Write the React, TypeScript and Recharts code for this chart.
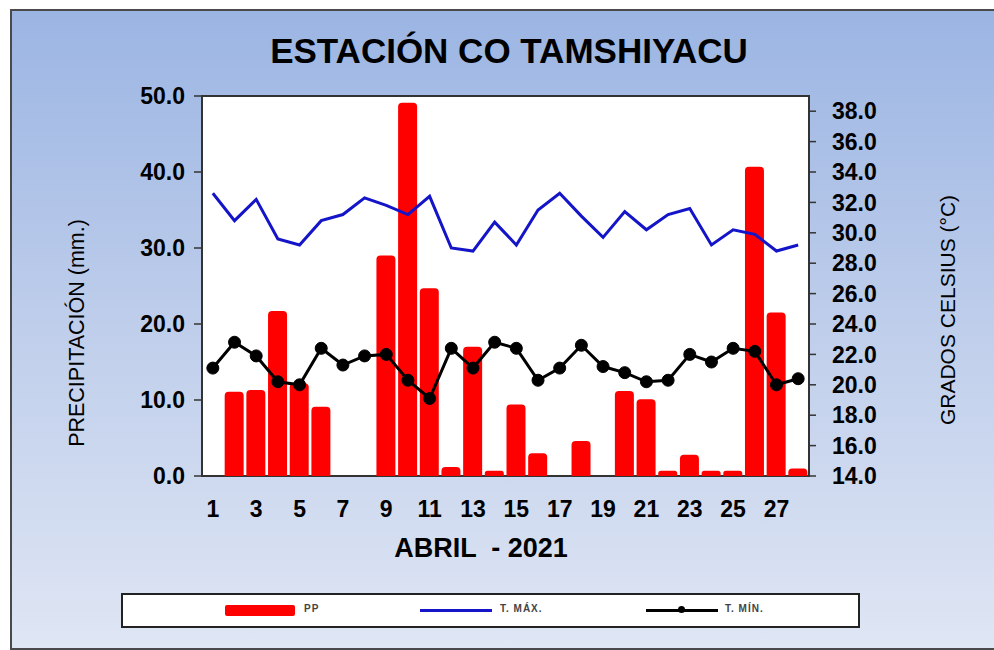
import React from 'react';
import { ComposedChart, Bar, Line, XAxis, YAxis } from 'recharts';

const days = ['1', '2', '3', '4', '5', '6', '7', '8', '9', '10', '11', '12', '13', '14', '15', '16', '17', '18', '19', '20', '21', '22', '23', '24', '25', '26', '27', '28'];
const pp = [0, 11.1, 11.3, 21.7, 12.2, 9.1, 0, 0, 29.0, 49.1, 24.7, 1.2, 17.0, 0.7, 9.4, 3.0, 0, 4.6, 0, 11.2, 10.1, 0.7, 2.8, 0.7, 0.7, 40.7, 21.5, 1.0];
const tMax = [32.6, 30.8, 32.2, 29.6, 29.2, 30.8, 31.2, 32.3, 31.8, 31.2, 32.4, 29.0, 28.8, 30.7, 29.2, 31.5, 32.6, 31.1, 29.7, 31.4, 30.2, 31.2, 31.6, 29.2, 30.2, 29.9, 28.8, 29.2];
const tMin = [21.1, 22.8, 21.9, 20.2, 20.0, 22.4, 21.3, 21.9, 22.0, 20.3, 19.1, 22.4, 21.1, 22.8, 22.4, 20.3, 21.1, 22.6, 21.2, 20.8, 20.2, 20.3, 22.0, 21.5, 22.4, 22.2, 20.0, 20.4];
const ppTicks = [0, 10, 20, 30, 40, 50];
const tempTicks = [14, 16, 18, 20, 22, 24, 26, 28, 30, 32, 34, 36, 38];

const data = days.map((d, i) => ({ day: d, pp: pp[i], tmax: tMax[i], tmin: tMin[i] }));

const FONT = '"Liberation Sans", Arial, sans-serif';
const tickStyle = { fill: '#000', fontSize: 23, fontWeight: 'bold', fontFamily: FONT } as any;

export default function App() {
  return (
    <div style={{ position: 'absolute', left: 0, top: 0, width: 994, height: 650, background: '#fff', overflow: 'hidden', fontFamily: FONT }}>
      <div style={{ position: 'absolute', left: 10, top: 9, width: 1000, height: 641, boxSizing: 'border-box', border: '2px solid #4a4a4a', background: 'linear-gradient(to bottom, #9BB5E3 0%, #BFCEEB 50%, #DFE6F4 100%)' }} />
      <div style={{ position: 'absolute', left: 201, top: 95, width: 609, height: 382, boxSizing: 'border-box', border: '2px solid #333', background: '#fff' }} />
      <div style={{ position: 'absolute', left: 509, top: 51, transform: 'translate(-50%,-50%)', fontSize: 35, fontWeight: 'bold', whiteSpace: 'nowrap', color: '#000' }}>ESTACIÓN CO TAMSHIYACU</div>
      <div style={{ position: 'absolute', left: 77, top: 333, transform: 'translate(-50%,-50%) rotate(-90deg)', fontSize: 21.5, whiteSpace: 'nowrap', color: '#000' }}>PRECIPITACIÓN (mm.)</div>
      <div style={{ position: 'absolute', left: 948, top: 310, transform: 'translate(-50%,-50%) rotate(-90deg)', fontSize: 21, whiteSpace: 'nowrap', color: '#000' }}>GRADOS CELSIUS (°C)</div>
      <div style={{ position: 'absolute', left: 481, top: 548, transform: 'translate(-50%,-50%)', fontSize: 27, fontWeight: 'bold', whiteSpace: 'pre', color: '#000' }}>{'ABRIL  - 2021'}</div>
      <div style={{ position: 'absolute', left: 0, top: 0 }}>
        <ComposedChart width={994} height={650} data={data} margin={{ top: 96, right: 0, bottom: 144, left: 0 }}>
          <XAxis dataKey="day" height={30} interval={1} tickLine={false} axisLine={false} tickSize={0} tickMargin={25} tick={tickStyle} />
          <YAxis yAxisId="pp" width={202} domain={[0, 50]} ticks={ppTicks} interval={0} allowDataOverflow tickFormatter={(v: number) => v.toFixed(1)} axisLine={false} tickLine={{ stroke: '#333', strokeWidth: 1.5 }} tickSize={8} tickMargin={9} tick={tickStyle} />
          <YAxis yAxisId="t" orientation="right" width={185} domain={[14, 39]} ticks={tempTicks} interval={0} allowDataOverflow tickFormatter={(v: number) => v.toFixed(1)} axisLine={false} tickLine={{ stroke: '#333', strokeWidth: 1.5 }} tickSize={7} tickMargin={16} tick={tickStyle} />
          <Bar yAxisId="pp" dataKey="pp" fill="#FF0000" barSize={19} radius={[4, 4, 0, 0]} isAnimationActive={false} />
          <Line yAxisId="t" dataKey="tmax" type="linear" stroke="#1414C8" strokeWidth={3} dot={false} isAnimationActive={false} />
          <Line yAxisId="t" dataKey="tmin" type="linear" stroke="#000" strokeWidth={3} dot={{ r: 6, fill: '#000', stroke: '#000', strokeWidth: 1 }} isAnimationActive={false} />
        </ComposedChart>
      </div>
      <div style={{ position: 'absolute', left: 121, top: 593, width: 739, height: 35, boxSizing: 'border-box', border: '2px solid #222', background: '#fff' }}>
        <div style={{ position: 'absolute', left: 102, top: 10, width: 70, height: 11, background: '#FF0000', borderRadius: 2 }} />
        <div style={{ position: 'absolute', left: 181, top: 8, fontSize: 10, fontWeight: 'bold', color: '#444', letterSpacing: 1 }}>PP</div>
        <div style={{ position: 'absolute', left: 297, top: 14, width: 72, height: 3, background: '#1414C8' }} />
        <div style={{ position: 'absolute', left: 377, top: 8, fontSize: 10, fontWeight: 'bold', color: '#444', letterSpacing: 1 }}>T. MÁX.</div>
        <div style={{ position: 'absolute', left: 523, top: 14, width: 72, height: 3, background: '#000' }} />
        <div style={{ position: 'absolute', left: 555, top: 11, width: 7, height: 7, borderRadius: 4, background: '#000' }} />
        <div style={{ position: 'absolute', left: 602, top: 8, fontSize: 10, fontWeight: 'bold', color: '#444', letterSpacing: 1 }}>T. MÍN.</div>
      </div>
    </div>
  );
}
